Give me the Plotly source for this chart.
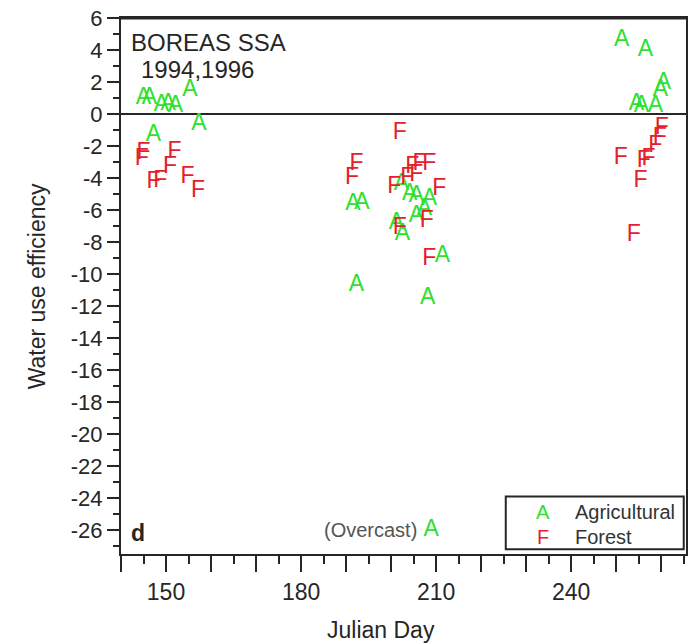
import plotly.graph_objects as go

# Julian day and water use efficiency, agricultural sites (A)
ag_day = [145.0, 146.3, 149.0, 150.5, 152.1, 155.3, 157.3, 147.2,
          191.5, 193.5, 192.3, 202.3, 204.1, 205.6, 208.5, 207.4, 205.6,
          201.2, 202.5, 211.4, 208.1, 208.9,
          251.2, 256.5, 254.5, 255.6, 258.7, 259.8, 260.5]
ag_wue = [0.96, 1.0, 0.52, 0.59, 0.46, 1.5, -0.66, -1.3,
          -5.65, -5.6, -10.7, -4.4, -5.0, -5.15, -5.33, -5.95, -6.4,
          -6.8, -7.5, -8.9, -11.5, -26.0,
          4.63, 4.0, 0.58, 0.46, 0.46, 1.5, 1.9]

# Julian day and water use efficiency, forest sites (F)
fo_day = [145.0, 144.6, 151.9, 150.9, 147.2, 148.7, 154.8, 157.1,
          201.9, 192.3, 191.3, 200.7, 204.7, 206.3, 208.5, 203.6, 205.6,
          210.7, 201.9, 207.9, 208.5,
          251.0, 255.4, 256.1, 257.2, 258.7, 259.7, 260.1, 253.9]
fo_wue = [-2.45, -2.85, -2.4, -3.35, -4.25, -4.2, -3.95, -4.8,
          -1.2, -3.15, -4.0, -4.55, -3.3, -3.15, -3.15, -4.0, -3.8,
          -4.7, -7.15, -6.7, -9.05,
          -2.78, -4.2, -2.97, -2.84, -2.03, -1.5, -0.9, -7.55]

x_ticks = list(range(140, 261, 10))
x_labels = [str(v) if v in (150, 180, 210, 240) else "" for v in x_ticks]
y_ticks = list(range(-26, 7, 2))
y_labels = [str(v) for v in y_ticks]

GREEN = "#2fe02f"
RED = "#e5202c"
INK = "#262626"
FONT = "Arial, Liberation Sans, sans-serif"

fig = go.Figure()
fig.add_trace(go.Scatter(x=ag_day, y=ag_wue, mode="text", text=["A"] * len(ag_day),
                         textposition="middle center",
                         textfont=dict(family=FONT, size=23, color=GREEN),
                         showlegend=False, name="Agricultural"))
fig.add_trace(go.Scatter(x=fo_day, y=fo_wue, mode="text", text=["F"] * len(fo_day),
                         textposition="middle center",
                         textfont=dict(family=FONT, size=23, color=RED),
                         showlegend=False, name="Forest"))

axis_common = dict(showline=True, linewidth=2, linecolor=INK, mirror=True,
                   showgrid=False, ticks="outside", tickcolor=INK, tickwidth=2)

fig.update_xaxes(range=[140, 265.5], tickmode="array", tickvals=x_ticks, ticktext=x_labels,
                 ticklen=16, tickfont=dict(family=FONT, size=23, color=INK),
                 minor=dict(tickmode="linear", tick0=0, dtick=5, ticklen=8,
                            ticks="outside", tickcolor=INK, tickwidth=2),
                 zeroline=False, **axis_common)
fig.update_yaxes(range=[-27.5, 6], tickmode="array", tickvals=y_ticks, ticktext=y_labels,
                 ticklen=12, tickfont=dict(family=FONT, size=22, color=INK),
                 minor=dict(tickmode="linear", tick0=0, dtick=1, ticklen=6,
                            ticks="outside", tickcolor=INK, tickwidth=2),
                 zeroline=True, zerolinecolor=INK, zerolinewidth=2, **axis_common)

annotations = [
    # axis titles
    dict(text="Julian Day", x=0.46, xref="paper", y=-0.141, yref="paper",
         xanchor="center", yanchor="middle", showarrow=False,
         font=dict(family=FONT, size=23, color=INK)),
    dict(text="Water use efficiency", x=37, xref="paper", xshift=0, y=0.5, yref="paper",
         xanchor="center", yanchor="middle", showarrow=False, textangle=-90,
         font=dict(family=FONT, size=23, color=INK)),
    # panel notes
    dict(text="BOREAS SSA", x=0.014, xref="paper", y=4.45, yref="y", xanchor="left",
         yanchor="middle", showarrow=False, font=dict(family=FONT, size=24, color=INK)),
    dict(text="1994,1996", x=0.031, xref="paper", y=2.8, yref="y", xanchor="left",
         yanchor="middle", showarrow=False, font=dict(family=FONT, size=24, color=INK)),
    dict(text="<b>d</b>", x=0.014, xref="paper", y=-26.2, yref="y", xanchor="left",
         yanchor="middle", showarrow=False, font=dict(family=FONT, size=23, color=INK)),
    dict(text="(Overcast)", x=206.1, xref="x", y=-26.0, yref="y", xanchor="right",
         yanchor="middle", showarrow=False, font=dict(family=FONT, size=20, color="#555555")),
    # key
    dict(text="A", x=0.747, xref="paper", y=-24.9, yref="y", xanchor="center",
         yanchor="middle", showarrow=False, font=dict(family=FONT, size=20, color=GREEN)),
    dict(text="Agricultural", x=0.8, xref="paper", y=-24.9, yref="y", xanchor="left",
         yanchor="middle", showarrow=False, font=dict(family=FONT, size=20, color="#333333")),
    dict(text="F", x=0.747, xref="paper", y=-26.45, yref="y", xanchor="center",
         yanchor="middle", showarrow=False, font=dict(family=FONT, size=20, color=RED)),
    dict(text="Forest", x=0.8, xref="paper", y=-26.45, yref="y", xanchor="left",
         yanchor="middle", showarrow=False, font=dict(family=FONT, size=20, color="#333333")),
]
# y-title placed in pixels left of the plot area
annotations[1]["x"] = (37 - 121) / 567

shapes = [
    dict(type="rect", xref="paper", yref="y", x0=0.681, x1=0.996, y0=-27.2, y1=-23.9,
         line=dict(color=INK, width=2), fillcolor="rgba(0,0,0,0)"),
    # heavier top border of the frame
    dict(type="line", xref="paper", yref="paper", x0=0, x1=1, y0=1, y1=1,
         line=dict(color=INK, width=3)),
]

fig.update_layout(width=694, height=644, margin=dict(l=121, r=6, t=16, b=90),
                  plot_bgcolor="white", paper_bgcolor="white",
                  annotations=annotations, shapes=shapes)

fig.write_html("out.html")
